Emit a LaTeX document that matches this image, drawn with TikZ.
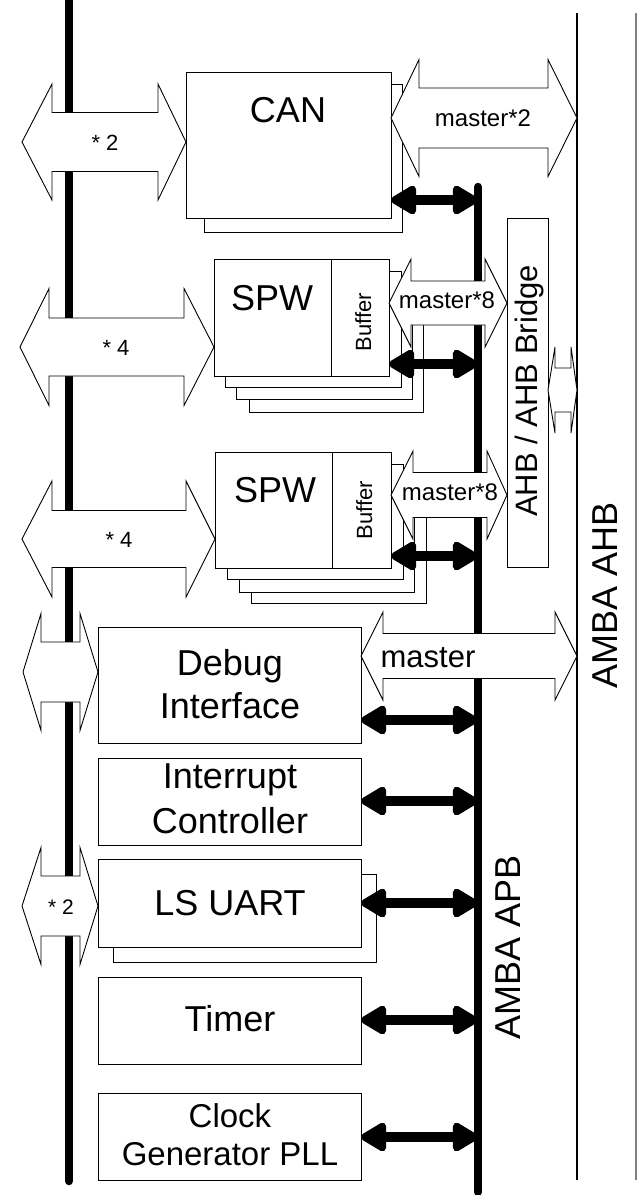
\documentclass[tikz,border=0pt]{standalone}
\usepackage{fontspec}
\setmainfont{Liberation Sans}
\usetikzlibrary{arrows.meta}
\newcommand{\myfs}[1]{\fontsize{#1}{#1}\selectfont}
% hollow double arrow: #1 left tip x, #2 right tip x, #3 centre y, #4 head half height, #5 shaft half height, #6 left base x, #7 right base x
\newcommand{\hollowarrow}[7]{%
  \draw[hollow] (#1,#3) -- (#6,#3-#4) -- (#6,#3-#5) -- (#7,#3-#5) -- (#7,#3-#4) -- (#2,#3)
   -- (#7,#3+#4) -- (#7,#3+#5) -- (#6,#3+#5) -- (#6,#3+#4) -- cycle;}
% box node: #1 name, #2 x1, #3 y1, #4 x2, #5 y2
\newcommand{\boxnode}[5]{%
  \node[box, minimum width={(#4-#2)*1pt}, minimum height={(#5-#3)*1pt}] (#1) at (#2,#3) {};}
\begin{document}
\begin{tikzpicture}[x=1pt,y=-1pt,
  box/.style={draw=black, fill=white, line width=0.9pt, inner sep=0pt, outer sep=0pt, anchor=north west},
  hollow/.style={draw=black, fill=white, line width=0.9pt, line join=miter},
  bus/.style={line width=8.5pt, line cap=round},
  busarrow/.style={line width=10pt, {Triangle[round,length=29pt,width=32pt]}-{Triangle[round,length=29pt,width=32pt]}},
  lbl/.style={anchor=base, inner sep=0pt, font=\myfs{36}},
  mlbl/.style={anchor=base, inner sep=0pt, font=\myfs{24}},
  slbl/.style={anchor=base, inner sep=0pt, font=\myfs{22}},
]
\fill[white] (0,0) rectangle (642,1195);
\useasboundingbox (0,0) rectangle (642,1195);

% buses and AHB lines
\coordinate (lbtop) at (69,-10);
\coordinate (lbbot) at (69,1181);
\coordinate (apbtop) at (478,187);
\coordinate (apbbot) at (478,1192);
\coordinate (ahbtop) at (577,13);
\coordinate (ahbbot) at (577,1180);
\coordinate (edgetop) at (636,13);
\coordinate (edgebot) at (636,1180);
\draw[bus] (lbtop) -- (lbbot);
\draw[bus] (apbtop) -- (apbbot);
\draw[line width=1.1pt] (ahbtop) -- (ahbbot);
\draw[line width=1.2pt, gray] (edgetop) -- (edgebot);

% shadows
\boxnode{canS}{204}{84}{402}{232}
\boxnode{spwAs3}{249}{295}{423}{412}
\boxnode{spwAs2}{236}{283}{412}{399}
\boxnode{spwAs1}{225}{271}{401}{387}
\boxnode{spwBs3}{251}{488}{426}{603}
\boxnode{spwBs2}{239}{476}{414}{592}
\boxnode{spwBs1}{227}{464}{403}{579}
\boxnode{uartS}{113}{874}{376}{962}

% main boxes
\boxnode{can}{186}{72}{391}{218}
\boxnode{spwA}{214}{259}{389}{376}
\boxnode{bufA}{331}{259}{389}{376}
\boxnode{spwB}{215}{452}{391}{568}
\boxnode{bufB}{332}{452}{391}{568}
\boxnode{bridge}{507}{218}{548}{567}
\boxnode{debug}{98}{627}{361}{743}
\boxnode{irq}{98}{758}{361}{845}
\boxnode{uart}{98}{859}{361}{947}
\boxnode{timer}{98}{977}{361}{1064}
\boxnode{clock}{98}{1093}{361}{1180}

% hollow arrows
\hollowarrow{22}{186}{142}{58}{29.5}{52}{158}
\hollowarrow{20}{214}{347}{58.5}{29}{49}{184}
\hollowarrow{22}{215}{539}{58}{28.5}{52}{186}
\hollowarrow{23}{98}{672}{58.5}{30}{41}{80}
\hollowarrow{22}{98}{906}{58.5}{30}{41}{80}
\hollowarrow{391}{577}{118}{58.5}{30}{419}{548}
\hollowarrow{389}{507}{303}{44}{22}{411}{485}
\hollowarrow{391}{507}{495}{44}{22.5}{413}{487}
\hollowarrow{361}{577}{656}{44}{22.5}{383}{555}
\hollowarrow{548}{577}{390}{43}{22}{555}{571}

% thick APB connectors
\coordinate (r1) at (0,200);
\coordinate (r2) at (0,364);
\coordinate (r3) at (0,556);
\coordinate (r4) at (0,720);
\coordinate (r5) at (0,801);
\coordinate (r6) at (0,903);
\coordinate (r7) at (0,1020);
\coordinate (r8) at (0,1137);
\draw[busarrow] (can.east |- r1) -- (apbtop |- r1);
\draw[busarrow] (spwA.east |- r2) -- (apbtop |- r2);
\draw[busarrow] (spwB.east |- r3) -- (apbtop |- r3);
\draw[busarrow] (debug.east |- r4) -- (apbtop |- r4);
\draw[busarrow] (irq.east |- r5) -- (apbtop |- r5);
\draw[busarrow] (uart.east |- r6) -- (apbtop |- r6);
\draw[busarrow] (timer.east |- r7) -- (apbtop |- r7);
\draw[busarrow] (clock.east |- r8) -- (apbtop |- r8);

% labels
\node[lbl] (tcan) at (288,122) {CAN};
\node[lbl] (tspwA) at (272,310) {SPW};
\node[lbl] (tspwB) at (275,502) {SPW};
\node[slbl, rotate=90] (tbufA) at (371,322) {Buffer};
\node[slbl, rotate=90] (tbufB) at (372,510) {Buffer};
\node[mlbl] (tm2) at (483,126) {master*2};
\node[mlbl] (tm8a) at (447,308) {master*8};
\node[mlbl] (tm8b) at (450,500) {master*8};
\node[anchor=base, inner sep=0pt, font=\myfs{31}] (tm) at (428,667) {master};
\node[slbl] (tx2a) at (105,150) {* 2};
\node[slbl] (tx4a) at (116,355) {* 4};
\node[slbl] (tx4b) at (119,547) {* 4};
\node[anchor=base, inner sep=0pt, font=\myfs{21}] (tx2b) at (61,914) {* 2};
\node[lbl] (tdbg1) at (230,675) {Debug};
\node[lbl] (tdbg2) at (230,718) {Interface};
\node[lbl] (tirq1) at (230,788) {Interrupt};
\node[lbl] (tirq2) at (230,833) {Controller};
\node[lbl] (tuart) at (230,915) {LS UART};
\node[lbl] (ttimer) at (230,1031) {Timer};
\node[anchor=base, inner sep=0pt, font=\myfs{33}] (tclk1) at (230,1127) {Clock};
\node[anchor=base, inner sep=0pt, font=\myfs{33}] (tclk2) at (230,1165) {Generator PLL};
\node[anchor=base, inner sep=0pt, font=\myfs{31}, rotate=90] (tbridge) at (537,391) {AHB / AHB Bridge};
\node[lbl, rotate=90] (tapb) at (520,947) {AMBA APB};
\node[lbl, rotate=90] (tahb) at (617,595) {AMBA AHB};
\end{tikzpicture}
\end{document}
